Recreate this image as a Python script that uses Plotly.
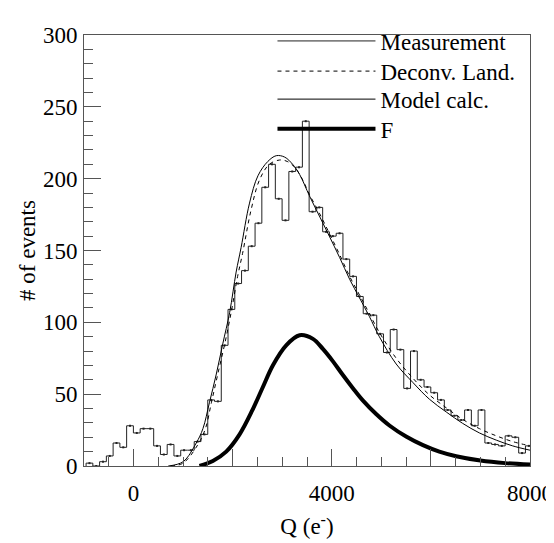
import numpy as np
import plotly.graph_objects as go

# ---------------- data ----------------
bin_lo = -958.0
bin_width = 136.4
counts = [2, 0, 3, 7, 16, 13, 28, 23, 26, 26, 14, 8, 15, 7, 11, 11, 17, 22, 46, 45,
          84, 109, 127, 136, 153, 169, 194, 210, 186, 171, 205, 208, 240, 177, 180, 163,
          160, 162, 144, 132, 118, 106, 105, 92, 79, 95, 81, 54, 80, 60, 55, 51, 46, 39,
          35, 32, 39, 28, 39, 16, 15, 14, 21, 20, 9, 14]

model_x = [700, 1000, 1265, 1400, 1530, 1670, 1800, 1940, 2070, 2170, 2340, 2510, 2710,
           2880, 3050, 3210, 3350, 3550, 3750, 3950, 4160, 4360, 4560, 4760, 4960, 5300,
           5640, 5970, 6310, 6640, 6980, 7320, 7650, 8000]
model_y = [0, 3, 16, 26, 44, 64, 85, 107, 135, 152, 183, 202, 212, 216, 215, 210, 203,
           188, 174, 160, 145, 130, 117, 104, 90, 71, 58, 46.5, 37.6, 29.7, 23, 18, 14, 11]

deconv_x = [750, 1000, 1300, 1450, 1570, 1700, 1840, 1970, 2100, 2200, 2370, 2540, 2740,
            2950, 3100, 3250, 3400, 3550, 3750, 3950, 4160, 4360, 4560, 4760, 4960, 5300,
            5640, 5970, 6310, 6640, 6980, 7320, 7650, 8000]
deconv_y = [0, 2, 15, 26, 44, 64, 85, 107, 132, 148, 178, 199, 210, 213, 212, 208, 200,
            189, 176, 162, 147, 132, 119, 106, 93, 75, 61, 49.5, 40.5, 32.5, 26, 21, 17, 14]

f_x = [1330, 1600, 1870, 2140, 2400, 2610, 2810, 3080, 3350, 3620, 3820, 4020, 4220,
       4430, 4630, 4900, 5170, 5500, 5840, 6170, 6510, 7000, 7500, 8000]
f_y = [0, 3.5, 10, 22, 39, 55, 70, 84, 91, 88.5, 81.5, 73, 63.5, 54, 45.5, 36, 28,
       20.5, 14.5, 10, 6.8, 3.8, 2, 1]

x_tick_vals = [0, 2000, 4000, 6000, 8000]
x_tick_text = ["0", "", "4000", "", "8000"]

# ---------------- figure ----------------
edges = bin_lo + bin_width * np.arange(len(counts) + 1)
centers = edges[:-1] + bin_width / 2
step_x = np.concatenate([[edges[0]], edges])
step_y = np.concatenate([[0], counts, [counts[-1]]])

FONT = "Liberation Serif"
AX = "#555555"

fig = go.Figure()
fig.add_trace(go.Scatter(x=step_x, y=step_y, mode="lines", line_shape="hv",
                         line=dict(color="#222222", width=1), name="Measurement",
                         legend="legend"))
fig.add_trace(go.Scatter(x=centers, y=counts, mode="markers", showlegend=False,
                         marker=dict(symbol="square", size=2, color="#222222"),
                         hoverinfo="skip"))
fig.add_trace(go.Scatter(x=deconv_x, y=deconv_y, mode="lines", line_shape="spline",
                         line=dict(color="black", width=1, dash="4px,4px"),
                         name="Deconv. Land.", legend="legend2"))
fig.add_trace(go.Scatter(x=model_x, y=model_y, mode="lines", line_shape="spline",
                         line=dict(color="black", width=1), name="Model calc.",
                         legend="legend3"))
fig.add_trace(go.Scatter(x=f_x, y=f_y, mode="lines", line_shape="spline",
                         line=dict(color="black", width=4), name="F",
                         legend="legend4"))

def leg(yc):
    return dict(x=0.4226, y=yc, xanchor="left", yanchor="top",
                bgcolor="rgba(0,0,0,0)", borderwidth=0, itemwidth=98,
                font=dict(family=FONT, size=23, color="black"))

fig.update_layout(
    width=546, height=535,
    margin=dict(l=76, r=24, t=11, b=77),
    paper_bgcolor="white", plot_bgcolor="white",
    font=dict(family=FONT, size=23, color="black"),
    showlegend=True,
    legend=leg(1.036), legend2=leg(0.966), legend3=leg(0.901), legend4=leg(0.832),
    xaxis=dict(range=[-1000, 8000], showgrid=False, zeroline=False, automargin=False,
               showline=True, linecolor=AX, linewidth=1, mirror=True,
               tickmode="array", tickvals=x_tick_vals, ticktext=x_tick_text,
               ticks="inside", ticklen=17, tickcolor=AX, tickwidth=1,
               ticklabelstandoff=6, tickfont=dict(family=FONT, size=23),
               minor=dict(dtick=500, tick0=0, ticks="inside", ticklen=9,
                          tickcolor=AX, showgrid=False),
               title=dict(text="Q (e<sup>-</sup>)", standoff=13,
                          font=dict(family=FONT, size=23))),
    yaxis=dict(range=[0, 300], showgrid=False, zeroline=False, automargin=False,
               showline=True, linecolor=AX, linewidth=1, mirror=True,
               dtick=50, tick0=0,
               ticks="inside", ticklen=17, tickcolor=AX, tickwidth=1,
               ticklabelstandoff=1, tickfont=dict(family=FONT, size=23),
               minor=dict(dtick=10, ticks="inside", ticklen=9,
                          tickcolor=AX, showgrid=False),
               title=dict(text="# of events", standoff=0,
                          font=dict(family=FONT, size=23))),
)

fig.write_html("out.html")
